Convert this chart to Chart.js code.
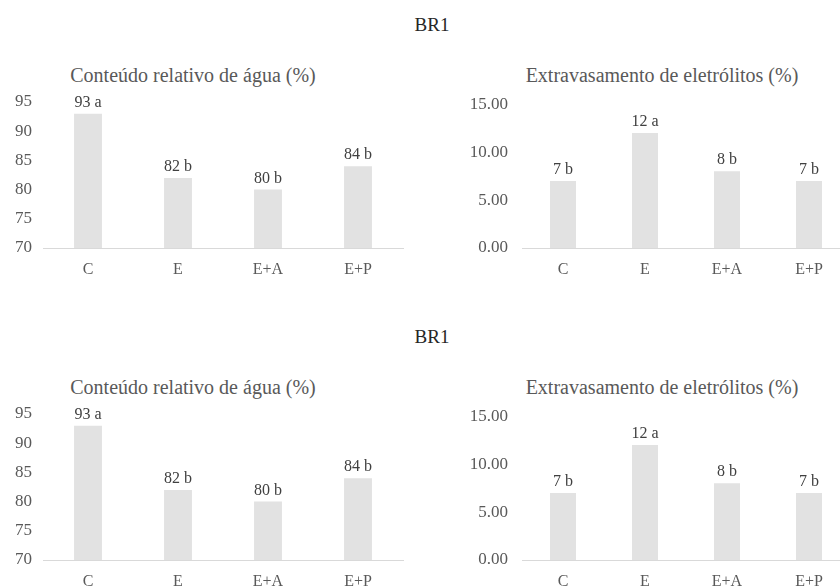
<!DOCTYPE html>
<html>
<head>
<meta charset="utf-8">
<script src="https://cdn.jsdelivr.net/npm/chart.js@4"></script>
<style>
  html, body { margin: 0; padding: 0; background: #fff; }
  body { width: 840px; height: 588px; overflow: hidden; position: relative; }
  .txt { position: absolute; width: 400px; text-align: center; line-height: 24px; white-space: nowrap;
         font-family: 'Liberation Serif', 'Times New Roman', serif; }
  .head { font-size: 19px; color: #262626; }
  .title { font-size: 20px; color: #595959; }
  .box { position: absolute; }
</style>
</head>
<body>

<div class="txt head" style="left:232px; top:13px">BR1</div>
<div class="txt title" style="left:-7px; top:63px">Conteúdo relativo de água (%)</div>
<div class="txt title" style="left:462px; top:63px">Extravasamento de eletrólitos (%)</div>
<div class="box" style="left:0; top:80px; width:420px; height:210px"><canvas id="water1"></canvas></div>
<div class="box" style="left:420px; top:80px; width:440px; height:210px"><canvas id="leak1"></canvas></div>

<div class="txt head" style="left:232px; top:325px">BR1</div>
<div class="txt title" style="left:-7px; top:375px">Conteúdo relativo de água (%)</div>
<div class="txt title" style="left:462px; top:375px">Extravasamento de eletrólitos (%)</div>
<div class="box" style="left:0; top:392px; width:420px; height:210px"><canvas id="water2"></canvas></div>
<div class="box" style="left:420px; top:392px; width:440px; height:210px"><canvas id="leak2"></canvas></div>

<script>
const categories = ['C', 'E', 'E+A', 'E+P'];

// relative water content (%)
const waterValues = [93, 82, 80, 84];
const waterLetters = ['a', 'b', 'b', 'b'];
const waterTicks = [70, 75, 80, 85, 90, 95];

// electrolyte leakage (%)
const leakValues = [7, 12, 8, 7];
const leakLetters = ['b', 'a', 'b', 'b'];
const leakTicks = [0, 5, 10, 15];

const FONT = "'Liberation Serif', 'Times New Roman', serif";
const TEXT = '#595959';

// "93 a" style labels above each bar
const valueLabels = {
    id: 'valueLabels',
    afterDatasetsDraw(chart, args, opts) {
        const ctx = chart.ctx;
        const meta = chart.getDatasetMeta(0);
        const data = chart.data.datasets[0].data;
        ctx.save();
        ctx.font = '16px ' + FONT;
        ctx.fillStyle = '#404040';
        ctx.textAlign = 'center';
        ctx.textBaseline = 'alphabetic';
        meta.data.forEach((bar, i) => {
            ctx.fillText(data[i] + ' ' + opts.letters[i], bar.x, bar.y - 7);
        });
        ctx.restore();
    }
};

function makeChart(id, values, letters, ticks, decimals, cfg) {
    return new Chart(document.getElementById(id), {
        type: 'bar',
        data: {
            labels: categories,
            datasets: [{
                data: values,
                backgroundColor: '#e2e2e2',
                borderWidth: 0,
                barPercentage: cfg.barPct,
                categoryPercentage: 1
            }]
        },
        plugins: [valueLabels],
        options: {
            responsive: true,
            maintainAspectRatio: false,
            animation: false,
            layout: { padding: { top: cfg.padTop, right: cfg.padRight, left: 0, bottom: 0 } },
            plugins: {
                legend: { display: false },
                tooltip: { enabled: false },
                valueLabels: { letters: letters }
            },
            scales: {
                x: {
                    grid: { display: false, drawTicks: false },
                    border: { display: true, color: '#d9d9d9', width: 1 },
                    ticks: { color: TEXT, font: { family: FONT, size: 16 }, padding: 12, maxRotation: 0, autoSkip: false },
                    afterFit(scale) { scale.height = 42; }
                },
                y: {
                    min: ticks[0],
                    max: ticks[ticks.length - 1],
                    grid: { display: false, drawTicks: false },
                    border: { display: false },
                    ticks: {
                        stepSize: ticks[1] - ticks[0],
                        color: TEXT,
                        font: { family: FONT, size: 17 },
                        padding: cfg.tickPad,
                        callback: v => v.toFixed(decimals)
                    },
                    afterFit(scale) { scale.width = cfg.yWidth; }
                }
            }
        }
    });
}

const waterCfg = { padTop: 22, padRight: 17, yWidth: 43, tickPad: 11, barPct: 0.31 };
const leakCfg = { padTop: 22, padRight: 10, yWidth: 102, tickPad: 14, barPct: 0.317 };

makeChart('water1', waterValues, waterLetters, waterTicks, 0, waterCfg);
makeChart('leak1', leakValues, leakLetters, leakTicks, 2, leakCfg);
makeChart('water2', waterValues, waterLetters, waterTicks, 0, waterCfg);
makeChart('leak2', leakValues, leakLetters, leakTicks, 2, leakCfg);
</script>
</body>
</html>
